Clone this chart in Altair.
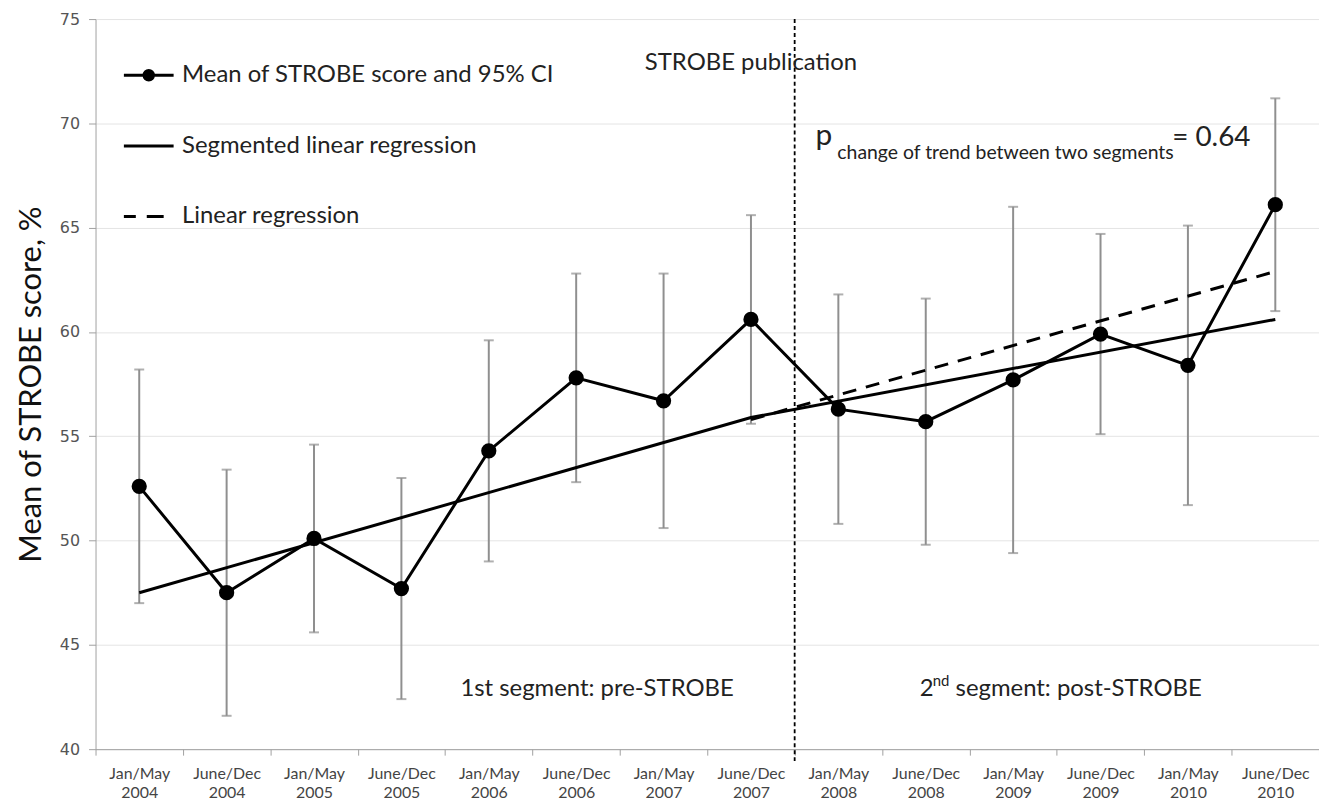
import altair as alt
import pandas as pd

periods = ["Jan/May 2004", "June/Dec 2004", "Jan/May 2005", "June/Dec 2005",
           "Jan/May 2006", "June/Dec 2006", "Jan/May 2007", "June/Dec 2007",
           "Jan/May 2008", "June/Dec 2008", "Jan/May 2009", "June/Dec 2009",
           "Jan/May 2010", "June/Dec 2010"]
mean_score = [52.6, 47.5, 50.1, 47.7, 54.3, 57.8, 56.7, 60.6, 56.3, 55.7, 57.7, 59.9, 58.4, 66.1]
ci_low = [47.0, 41.6, 45.6, 42.4, 49.0, 52.8, 50.6, 55.6, 50.8, 49.8, 49.4, 55.1, 51.7, 61.0]
ci_high = [58.2, 53.4, 54.6, 53.0, 59.6, 62.8, 62.8, 65.6, 61.8, 61.6, 66.0, 64.7, 65.1, 71.2]

seg_periods = ["Jan/May 2004", "June/Dec 2007", "June/Dec 2010"]
seg_values = [47.5, 55.9, 60.6]
lin_periods = ["June/Dec 2007", "June/Dec 2010"]
lin_values = [55.8, 62.9]

legend_names = ["Mean of STROBE score and 95% CI", "Segmented linear regression", "Linear regression"]
y_ticks = [40, 45, 50, 55, 60, 65, 70, 75]
strobe_period = ["Jan/May 2008"]

FONT = "Lato"
W, H = 1230, 734

df = pd.DataFrame({"period": periods, "mean": mean_score, "lo": ci_low, "hi": ci_high,
                   "idx": list(range(len(periods)))})
seg_df = pd.DataFrame({"period": seg_periods, "v": seg_values, "idx": list(range(len(seg_periods)))})
lin_df = pd.DataFrame({"period": lin_periods, "v": lin_values, "idx": list(range(len(lin_periods)))})
leg_df = pd.DataFrame({"series": legend_names, "period": periods[:3], "v": mean_score[:3]})
strobe_df = pd.DataFrame({"period": strobe_period})

xscale = alt.Scale(type="band", domain=periods, paddingInner=0, paddingOuter=0)
yscale = alt.Scale(domain=[40, 75], nice=False, zero=False)

x_axis = alt.Axis(title=None, tickBand="extent", labelExpr="split(datum.label, ' ')",
                  labelFont=FONT, labelFontSize=16, labelColor="#444", labelLineHeight=20,
                  labelPadding=10, tickSize=6, tickColor="#a0a0a0", domainColor="#a0a0a0",
                  labelAngle=0, grid=False)
y_axis = alt.Axis(title="Mean  of STROBE score, %", values=y_ticks, titleFont=FONT,
                  titleFontSize=31, titleFontWeight="normal", titleColor="#111",
                  labelFont="DejaVu Sans", labelFontSize=16, labelColor="#555",
                  tickSize=7, tickColor="#a0a0a0", domainColor="#a0a0a0",
                  gridColor="#e4e4e4", labelPadding=9, titlePadding=12)

X = alt.X("period:N", scale=xscale, axis=x_axis, sort=periods)


def Yq(field):
    return alt.Y(field, type="quantitative", scale=yscale, axis=y_axis)


base = alt.Chart(df)

err = base.mark_rule(color="#8f8f8f", strokeWidth=2).encode(x=X, y=Yq("lo"), y2="hi")
cap_lo = base.mark_tick(color="#8f8f8f", thickness=2, size=10).encode(x=X, y=Yq("lo"))
cap_hi = base.mark_tick(color="#8f8f8f", thickness=2, size=10).encode(x=X, y=Yq("hi"))

strobe = alt.Chart(strobe_df).mark_rule(color="black", strokeWidth=1.8, strokeDash=[4, 3]).encode(
    x=alt.X("period:N", scale=xscale, axis=x_axis, bandPosition=0),
    y=alt.value(0), y2=alt.value(H + 14))

seg_line = alt.Chart(seg_df).mark_line(color="black", strokeWidth=3).encode(
    x=X, y=Yq("v"), order="idx:Q")
lin_line = alt.Chart(lin_df).mark_line(color="black", strokeWidth=3, strokeDash=[14, 10]).encode(
    x=X, y=Yq("v"), order="idx:Q")

main_line = base.mark_line(color="black", strokeWidth=3).encode(x=X, y=Yq("mean"), order="idx:Q")
main_pts = base.mark_circle(color="black", size=235, opacity=1).encode(x=X, y=Yq("mean"))

# legend glyphs (unit coordinates, scaled by the legend symbol size)
ring = "".join(
    "M-{r},0A{r},{r},0,1,1,{r},0A{r},{r},0,1,1,-{r},0Z".format(r=r)
    for r in (0.19, 0.13, 0.07, 0.02))
paths = [
    "M-1,0H1" + ring,
    "M-1,0H1",
    "M-1,0H-0.52M-0.08,0H0.6",
]
legend_layer = alt.Chart(leg_df).mark_point(filled=False, color="black", fill="black",
                                            strokeWidth=3, opacity=0).encode(
    x=X, y=Yq("v"),
    shape=alt.Shape("series:N", scale=alt.Scale(domain=legend_names, range=paths),
                    legend=alt.Legend(title=None, orient="none", legendX=27, legendY=30,
                                      labelFont=FONT, labelFontSize=24, labelColor="#222",
                                      labelLimit=0, symbolSize=2500, symbolStrokeWidth=3,
                                      symbolOpacity=1, rowPadding=32, labelOffset=7,
                                      padding=0)))


def txt(label, period, yv, dx, size, align="left"):
    return alt.Chart(strobe_df).mark_text(
        text=label, font=FONT, fontSize=size, color="#222", align=align,
        baseline="alphabetic", dx=dx).encode(
        x=alt.X(datum=period, type="nominal", scale=xscale, axis=x_axis),
        y=alt.Y(datum=yv, type="quantitative", scale=yscale, axis=y_axis))


annots = [
    txt("STROBE publication", "June/Dec 2007", 72.57, 0, 24, align="center"),
    txt("p", "Jan/May 2008", 68.95, -23, 30),
    txt("change of trend between two segments", "Jan/May 2008", 68.28, -1, 19.5),
    txt("= 0.64", "June/Dec 2009", 68.9, 72, 28),
    txt("1st segment: pre-STROBE", "June/Dec 2006", 42.57, 21, 24, align="center"),
    txt("2", "June/Dec 2008", 42.55, -6, 24),
    txt("nd", "June/Dec 2008", 43.05, 7, 15),
    txt("segment: post-STROBE", "June/Dec 2008", 42.55, 30, 24),
]

chart = alt.layer(err, cap_lo, cap_hi, strobe, seg_line, lin_line, main_line, main_pts,
                  legend_layer, *annots).properties(
    width=W, height=H,
    autosize=alt.AutoSizeParams(type="none"),
    padding={"left": 88, "top": 9, "right": 0, "bottom": 54},
).configure_view(stroke=None)

chart.save("out.html", embed_options={"renderer": "svg", "actions": False})
